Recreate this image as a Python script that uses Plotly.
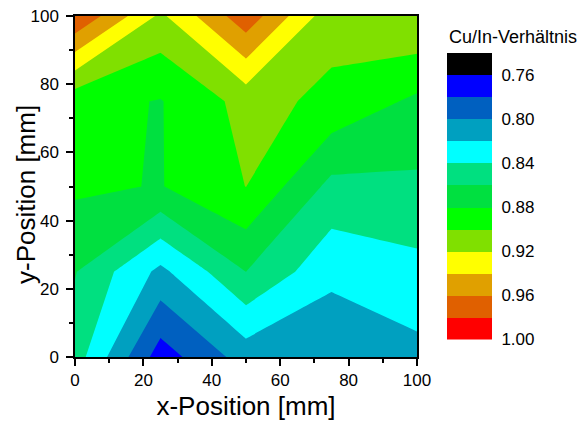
import plotly.graph_objects as go

# grid positions (mm)
x_mm = [0, 25, 50, 75, 100]
y_mm = [0, 25, 50, 75, 100]

# Cu/In ratio, one list per y row
ratio_y0 = [0.850, 0.770, 0.809, 0.803, 0.814]
ratio_y25 = [0.861, 0.815, 0.860, 0.8253, 0.834]
ratio_y50 = [0.8835, 0.879, 0.9002, 0.8544, 0.856]
ratio_y75 = [0.8867, 0.879, 0.907, 0.8954, 0.876]
ratio_y100 = [0.979, 0.916, 0.973, 0.907, 0.919]

# colour levels: band edges and band colours (lowest ratio first)
level_edges = [0.74, 0.76, 0.78, 0.80, 0.82, 0.84, 0.86, 0.88, 0.90, 0.92, 0.94, 0.96, 0.98, 1.00]
band_colors = ["#000000", "#0000FF", "#0060C0", "#00A0C0", "#00FFFF", "#00E080", "#00E040",
               "#00FF00", "#80E000", "#FFFF00", "#E0A000", "#E06000", "#FF0000"]
tick_values = [0.76, 0.80, 0.84, 0.88, 0.92, 0.96, 1.00]

rows = [ratio_y0, ratio_y25, ratio_y50, ratio_y75, ratio_y100]

n = len(band_colors)
cscale = []
for i, c in enumerate(band_colors):
    cscale.append([i / n, c])
    cscale.append([(i + 1) / n, c])

font = "Liberation Sans, Arial, sans-serif"
W, H = 579, 421

fig = go.Figure()
fig.add_trace(go.Contour(
    x=x_mm, y=y_mm, z=rows,
    colorscale=cscale, showscale=False,
    autocontour=False,
    contours=dict(start=level_edges[1], end=level_edges[-2], size=level_edges[1] - level_edges[0],
                  coloring="fill", showlines=False),
    line=dict(width=0, smoothing=0),
    hoverinfo="skip",
))

# colour key drawn as a one-column heatmap on its own axes
band_mid = [(a + b) / 2 for a, b in zip(level_edges[:-1], level_edges[1:])]
fig.add_trace(go.Heatmap(
    x=[0], y=level_edges, z=[[v] for v in band_mid],
    colorscale=cscale, zmin=level_edges[0], zmax=level_edges[-1],
    showscale=False, xaxis="x2", yaxis="y2", hoverinfo="skip",
))

axis_common = dict(
    range=[0, 100], dtick=20, showline=True, linecolor="black", linewidth=1.5,
    mirror=True, ticks="outside", ticklen=7, tickwidth=1.5, tickcolor="black",
    minor=dict(dtick=10, ticks="outside", ticklen=4, tickwidth=1.5, tickcolor="black"),
    tickfont=dict(size=17, color="black", family=font),
    showgrid=False, zeroline=False, automargin=False,
)
fig.update_layout(
    width=W, height=H,
    margin=dict(l=0, r=0, t=0, b=0, autoexpand=False),
    paper_bgcolor="white", plot_bgcolor="white",
    font=dict(family=font, color="black"),
    xaxis=dict(**axis_common, domain=[75 / W, 417 / W], ticklabelstandoff=0,
               title=dict(text="x-Position [mm]", font=dict(size=26, color="black", family=font), standoff=8)),
    yaxis=dict(**axis_common, domain=[(H - 357) / H, (H - 16) / H], ticklabelstandoff=4),
    xaxis2=dict(domain=[447 / W, 492 / W], anchor="y2", range=[-0.5, 0.5], visible=False, fixedrange=True),
    yaxis2=dict(domain=[(H - 339.5) / H, (H - 53) / H], anchor="x2", side="right",
                range=[level_edges[-1], level_edges[0]], tickvals=tick_values,
                ticktext=["%.2f" % t for t in tick_values],
                tickfont=dict(size=17, color="black", family=font),
                ticks="outside", ticklen=5, tickcolor="rgba(0,0,0,0)",
                showline=False, showgrid=False, zeroline=False, automargin=False, fixedrange=True),
    annotations=[
        dict(text="Cu/In-Verhältnis", xref="paper", yref="paper",
             x=447 / W, y=(H - 37) / H, xanchor="left", yanchor="middle",
             showarrow=False, font=dict(size=18, color="black", family=font)),
        dict(text="y-Position [mm]", xref="paper", yref="paper", textangle=-90,
             x=26 / W, y=(H - 195) / H, xanchor="center", yanchor="middle",
             showarrow=False, font=dict(size=26, color="black", family=font)),
    ],
)

fig.write_html("out.html", config={"displayModeBar": False},
               post_script="document.body.style.margin='0';")
